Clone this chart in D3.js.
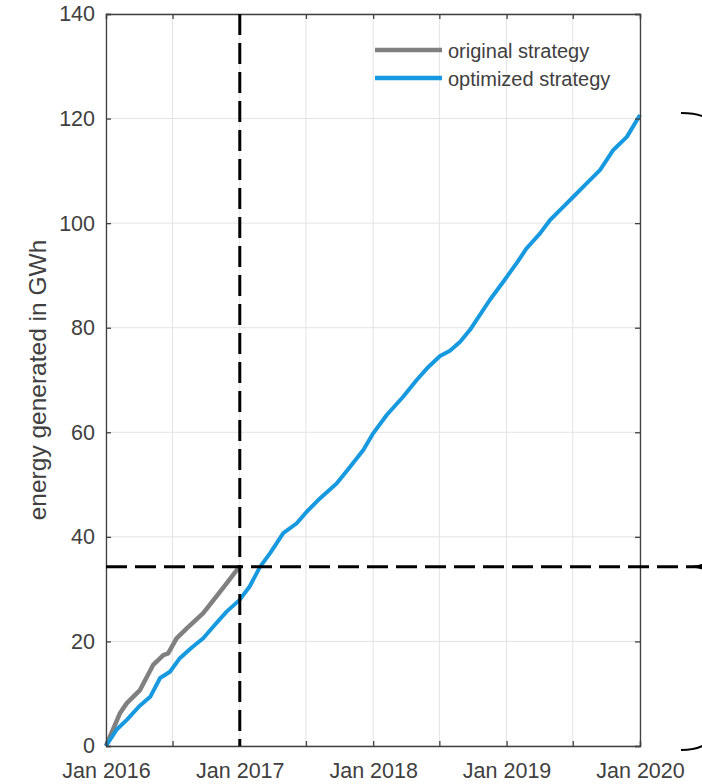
<!DOCTYPE html>
<html>
<head>
<meta charset="utf-8">
<script src="https://cdn.jsdelivr.net/npm/d3@7"></script>
<style>
body{margin:0;background:#fff;}
text{font-family:"Liberation Sans",Arial,sans-serif;}
</style>
</head>
<body>
<script>
// data (months after Jan 2016, GWh)
let optMonths=[0,1.0,1.86,3.0,3.96,4.85,5.75,6.65,7.7,8.75,9.8,10.85,12,12.9,13.84,14.74,15.94,17.14,18.04,19.24,20.74,21.93,23.13,24.03,25.23,26.72,27.92,28.97,30.02,30.92,31.82,32.72,33.3,34.5,35.7,36.9,37.8,39.0,39.9,41.1,42.0,43.2,44.4,45.6,46.8,48];
let optValues=[0,3.2,5.0,7.6,9.4,13.0,14.2,16.8,18.8,20.6,23.2,25.7,27.9,30.5,34.2,36.9,40.7,42.6,44.8,47.4,50.2,53.4,56.6,59.8,63.3,66.8,70.0,72.5,74.6,75.6,77.3,79.6,81.5,85.3,88.8,92.3,95.2,98.0,100.6,103.1,105.0,107.6,110.2,114.0,116.5,120.7];
let origMonths=[0,1.26,1.86,3.05,4.25,5.15,5.6,6.35,7.25,8.75,9.65,10.85,12];
let origValues=[0,6.25,8.2,10.7,15.5,17.4,17.7,20.6,22.5,25.4,27.9,31.1,34.3];
let yTicks=[0,20,40,60,80,100,120,140];
let seriesNames=["original strategy","optimized strategy"];
let cutDate=new Date(2017,0,1),cutValue=34.3;

let width=702,height=784;
let pLeft=106,pRight=640,pTop=14,pBottom=746;
let start=new Date(2016,0,1),end=new Date(2020,0,1);

function toDate(m){
    return new Date(2016,0,1+Math.round(m*30.44));
}

let svg=d3.select("body").append("svg").attr("width",width).attr("height",height);

let x=d3.scaleTime().domain([start,end]).range([pLeft,pRight]);
let y=d3.scaleLinear().domain([0,140]).range([pBottom,pTop]);
let halfYears=d3.timeMonth.every(6).range(start,d3.timeDay.offset(end,1));

//网格
svg.append("g").selectAll("line").data(halfYears).enter().append("line")
    .attr("x1",d=>x(d)).attr("x2",d=>x(d)).attr("y1",pTop).attr("y2",pBottom)
    .style("stroke","#e3e3e3").style("stroke-width",1);
svg.append("g").selectAll("line").data(yTicks).enter().append("line")
    .attr("x1",pLeft).attr("x2",pRight).attr("y1",d=>y(d)).attr("y2",d=>y(d))
    .style("stroke","#e3e3e3").style("stroke-width",1);

//数据线
let line=d3.line().x(d=>x(d[0])).y(d=>y(d[1]));
let orig=origMonths.map((m,i)=>[toDate(m),origValues[i]]);
let opt=optMonths.map((m,i)=>[toDate(m),optValues[i]]);
svg.append("path").datum(orig).attr("d",line)
    .style("fill","none").style("stroke","#808080").style("stroke-width",4.5).style("stroke-linejoin","round");
svg.append("path").datum(opt).attr("d",line)
    .style("fill","none").style("stroke","#1799e0").style("stroke-width",4).style("stroke-linejoin","round");

//坐标轴
let axisColor="#404040";
let ax=svg.append("g");
ax.append("g").attr("transform",`translate(0,${pBottom})`)
    .call(d3.axisBottom(x).tickValues(halfYears).tickSize(-5).tickPadding(17)
        .tickFormat(d=>d.getMonth()==0?"Jan "+d.getFullYear():""));
ax.append("g").attr("transform",`translate(0,${pTop})`)
    .call(d3.axisTop(x).tickValues(halfYears).tickSize(-5).tickFormat(""));
ax.append("g").attr("transform",`translate(${pLeft},0)`)
    .call(d3.axisLeft(y).tickValues(yTicks).tickSize(-5).tickPadding(11));
ax.append("g").attr("transform",`translate(${pRight},0)`)
    .call(d3.axisRight(y).tickValues(yTicks).tickSize(-5).tickFormat(""));
ax.selectAll(".domain").style("stroke",axisColor).style("stroke-width",1.3);
ax.selectAll(".tick line").style("stroke",axisColor).style("stroke-width",1.3);
ax.selectAll("text").style("fill","#404040").style("font-size","21.5px")
    .style("font-family","'Liberation Sans',Arial,sans-serif");

//y轴标题
svg.append("text").attr("transform",`translate(46,${(pTop+pBottom)/2}) rotate(-90)`)
    .attr("text-anchor","middle").style("font-size","24.5px").style("fill","#404040")
    .text("energy generated in GWh");

//虚线
svg.append("line").attr("x1",x(cutDate)).attr("x2",x(cutDate)).attr("y1",pTop).attr("y2",pBottom)
    .style("stroke","#000").style("stroke-width",3).style("stroke-dasharray","21,8");
svg.append("line").attr("x1",pLeft).attr("x2",width).attr("y1",y(cutValue)).attr("y2",y(cutValue))
    .style("stroke","#000").style("stroke-width",3).style("stroke-dasharray","21,8");

//右侧括号
let tipY=y(cutValue);
svg.append("path")
    .attr("d",`M681,113 C700,113 714,117 714,135 L714,${tipY-18} C714,${tipY-6} 702,${tipY} 693,${tipY} C702,${tipY} 714,${tipY+6} 714,${tipY+18} L714,728 C714,742 702,750 681,750`)
    .style("fill","none").style("stroke","#000").style("stroke-width",2);

//图例
let legend=svg.append("g").selectAll("g").data(seriesNames).enter().append("g")
    .attr("transform",(d,i)=>`translate(375,${50+i*28})`);
legend.append("line").attr("x1",0).attr("x2",67)
    .style("stroke",(d,i)=>i==0?"#808080":"#1799e0").style("stroke-width",4.5);
legend.append("text").attr("x",73).attr("y",8).style("font-size","20px").style("fill","#404040")
    .text(d=>d);
</script>
</body>
</html>
